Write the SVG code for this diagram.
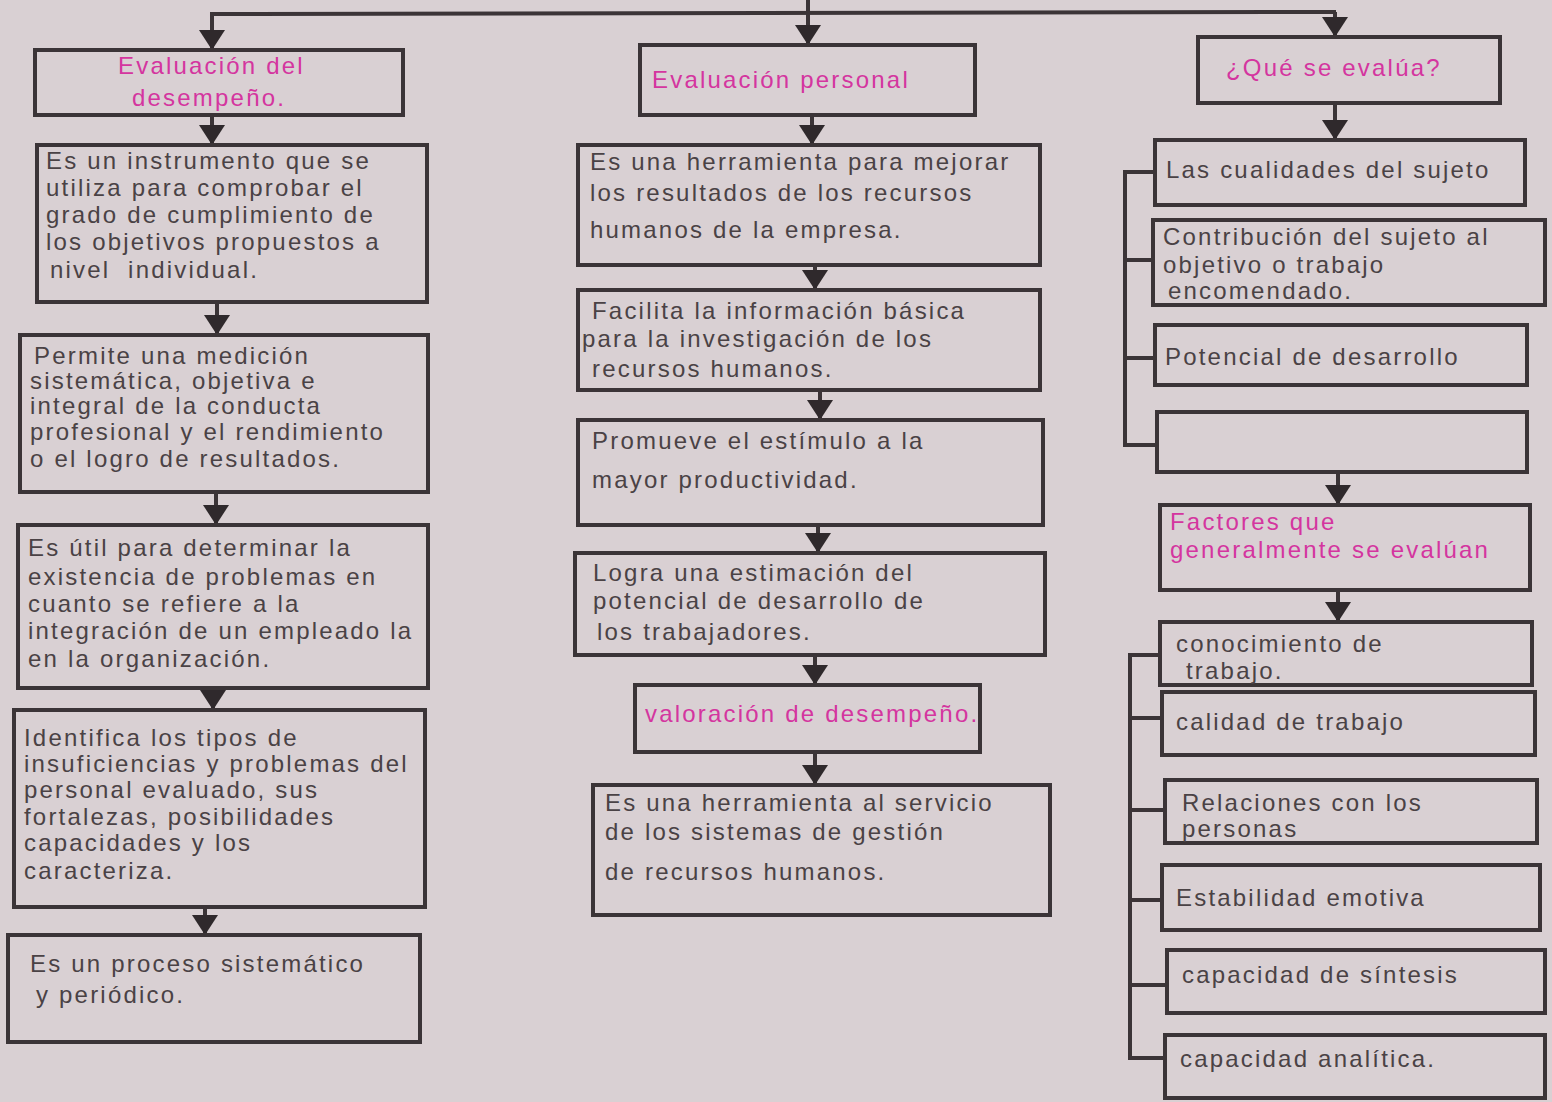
<svg xmlns="http://www.w3.org/2000/svg" width="1552" height="1102" viewBox="0 0 1552 1102">
<style>
.bg{fill:#d9d0d3}
.box{fill:none;stroke:#3b3437;stroke-width:4}
.ln{fill:none;stroke:#3b3437;stroke-width:4}
.t{font-family:"Liberation Sans","Open Sans",sans-serif;font-size:24px;fill:#4a4245;letter-spacing:2.2px}
.m{fill:#d4359f}
</style>
<defs>
<marker id="ah" markerUnits="userSpaceOnUse" markerWidth="22" markerHeight="28" viewBox="0 0 22 28" refX="21" refY="14" orient="auto">
<path d="M1,1 L1,27 L21,14 Z" fill="#2f292c"/>
</marker>
</defs>
<rect class="bg" x="0" y="0" width="1552" height="1102"/>

<g id="connectors">
<line class="ln" x1="808" y1="0" x2="808" y2="13"/>
<line class="ln" x1="210" y1="14" x2="1336" y2="12"/>
<path class="ln" d="M212,14 V50" marker-end="url(#ah)"/>
<path class="ln" d="M808,13 V45" marker-end="url(#ah)"/>
<path class="ln" d="M1335,12 V37" marker-end="url(#ah)"/>
<path class="ln" d="M212,115 V145" marker-end="url(#ah)"/>
<path class="ln" d="M217,302 V335" marker-end="url(#ah)"/>
<path class="ln" d="M216,492 V525" marker-end="url(#ah)"/>
<path class="ln" d="M213,688 V710" marker-end="url(#ah)"/>
<path class="ln" d="M205,907 V935" marker-end="url(#ah)"/>
<path class="ln" d="M812,115 V145" marker-end="url(#ah)"/>
<path class="ln" d="M815,265 V290" marker-end="url(#ah)"/>
<path class="ln" d="M820,390 V420" marker-end="url(#ah)"/>
<path class="ln" d="M818,525 V553" marker-end="url(#ah)"/>
<path class="ln" d="M815,655 V685" marker-end="url(#ah)"/>
<path class="ln" d="M815,752 V785" marker-end="url(#ah)"/>
<path class="ln" d="M1335,103 V140" marker-end="url(#ah)"/>
<path class="ln" d="M1338,472 V505" marker-end="url(#ah)"/>
<path class="ln" d="M1338,590 V622" marker-end="url(#ah)"/>
<path class="ln" d="M1155,172 H1125 V445 H1157"/>
<path class="ln" d="M1125,260 H1153"/>
<path class="ln" d="M1125,358 H1155"/>
<path class="ln" d="M1160,655 H1130 V1058 H1165"/>
<path class="ln" d="M1130,718 H1162"/>
<path class="ln" d="M1130,810 H1165"/>
<path class="ln" d="M1130,900 H1162"/>
<path class="ln" d="M1130,985 H1167"/>
</g>

<g id="n-eval-desempeno">
<rect class="box" x="35" y="50" width="368" height="65"/>
<text class="t m" x="118" y="74">Evaluación del</text>
<text class="t m" x="132" y="106">desempeño.</text>
</g>
<g id="n-l1">
<rect class="box" x="37" y="145" width="390" height="157"/>
<text class="t" x="46" y="169">Es un instrumento que se</text>
<text class="t" x="46" y="196">utiliza para comprobar el</text>
<text class="t" x="46" y="223">grado de cumplimiento de</text>
<text class="t" x="46" y="250">los objetivos propuestos a</text>
<text class="t" x="50" y="278" xml:space="preserve">nivel  individual.</text>
</g>
<g id="n-l2">
<rect class="box" x="20" y="335" width="408" height="157"/>
<text class="t" x="34" y="364">Permite una medición</text>
<text class="t" x="30" y="389">sistemática, objetiva e</text>
<text class="t" x="30" y="414">integral de la conducta</text>
<text class="t" x="30" y="440">profesional y el rendimiento</text>
<text class="t" x="30" y="467">o el logro de resultados.</text>
</g>
<g id="n-l3">
<rect class="box" x="18" y="525" width="410" height="163"/>
<text class="t" x="28" y="556">Es útil para determinar la</text>
<text class="t" x="28" y="585">existencia de problemas en</text>
<text class="t" x="28" y="612">cuanto se refiere a la</text>
<text class="t" x="28" y="639">integración de un empleado la</text>
<text class="t" x="28" y="667">en la organización.</text>
</g>
<g id="n-l4">
<rect class="box" x="14" y="710" width="411" height="197"/>
<text class="t" x="24" y="746">Identifica los tipos de</text>
<text class="t" x="24" y="772">insuficiencias y problemas del</text>
<text class="t" x="24" y="798">personal evaluado, sus</text>
<text class="t" x="24" y="825">fortalezas, posibilidades</text>
<text class="t" x="24" y="851">capacidades y los</text>
<text class="t" x="24" y="879">caracteriza.</text>
</g>
<g id="n-l5">
<rect class="box" x="8" y="935" width="412" height="107"/>
<text class="t" x="30" y="972">Es un proceso sistemático</text>
<text class="t" x="36" y="1003">y periódico.</text>
</g>

<g id="n-eval-personal">
<rect class="box" x="640" y="45" width="335" height="70"/>
<text class="t m" x="652" y="88">Evaluación personal</text>
</g>
<g id="n-m1">
<rect class="box" x="578" y="145" width="462" height="120"/>
<text class="t" x="590" y="170">Es una herramienta para mejorar</text>
<text class="t" x="590" y="201">los resultados de los recursos</text>
<text class="t" x="590" y="238">humanos de la empresa.</text>
</g>
<g id="n-m2">
<rect class="box" x="578" y="290" width="462" height="100"/>
<text class="t" x="592" y="319">Facilita la información básica</text>
<text class="t" x="582" y="347">para la investigación de los</text>
<text class="t" x="592" y="377">recursos humanos.</text>
</g>
<g id="n-m3">
<rect class="box" x="578" y="420" width="465" height="105"/>
<text class="t" x="592" y="449">Promueve el estímulo a la</text>
<text class="t" x="592" y="488">mayor productividad.</text>
</g>
<g id="n-m4">
<rect class="box" x="575" y="553" width="470" height="102"/>
<text class="t" x="593" y="581">Logra una estimación del</text>
<text class="t" x="593" y="609">potencial de desarrollo de</text>
<text class="t" x="597" y="640">los trabajadores.</text>
</g>
<g id="n-valoracion">
<rect class="box" x="635" y="685" width="345" height="67"/>
<text class="t m" x="645" y="722">valoración de desempeño.</text>
</g>
<g id="n-m5">
<rect class="box" x="593" y="785" width="457" height="130"/>
<text class="t" x="605" y="811">Es una herramienta al servicio</text>
<text class="t" x="605" y="840">de los sistemas de gestión</text>
<text class="t" x="605" y="880">de recursos humanos.</text>
</g>

<g id="n-que-se-evalua">
<rect class="box" x="1198" y="37" width="302" height="66"/>
<text class="t m" x="1226" y="76">¿Qué se evalúa?</text>
</g>
<g id="n-r1">
<rect class="box" x="1155" y="140" width="370" height="65"/>
<text class="t" x="1166" y="178">Las cualidades del sujeto</text>
</g>
<g id="n-r2">
<rect class="box" x="1153" y="220" width="392" height="85"/>
<text class="t" x="1163" y="245">Contribución del sujeto al</text>
<text class="t" x="1163" y="273">objetivo o trabajo</text>
<text class="t" x="1168" y="299">encomendado.</text>
</g>
<g id="n-r3">
<rect class="box" x="1155" y="325" width="372" height="60"/>
<text class="t" x="1165" y="365">Potencial de desarrollo</text>
</g>
<g id="n-r4">
<rect class="box" x="1157" y="412" width="370" height="60"/>
</g>
<g id="n-factores">
<rect class="box" x="1160" y="505" width="370" height="85"/>
<text class="t m" x="1170" y="530">Factores que</text>
<text class="t m" x="1170" y="558">generalmente se evalúan</text>
</g>
<g id="n-f1">
<rect class="box" x="1160" y="622" width="372" height="63"/>
<text class="t" x="1176" y="652">conocimiento de</text>
<text class="t" x="1186" y="679">trabajo.</text>
</g>
<g id="n-f2">
<rect class="box" x="1162" y="692" width="373" height="63"/>
<text class="t" x="1176" y="730">calidad de trabajo</text>
</g>
<g id="n-f3">
<rect class="box" x="1165" y="780" width="372" height="63"/>
<text class="t" x="1182" y="811">Relaciones con los</text>
<text class="t" x="1182" y="837">personas</text>
</g>
<g id="n-f4">
<rect class="box" x="1162" y="865" width="378" height="65"/>
<text class="t" x="1176" y="906">Estabilidad emotiva</text>
</g>
<g id="n-f5">
<rect class="box" x="1167" y="950" width="378" height="63"/>
<text class="t" x="1182" y="983">capacidad de síntesis</text>
</g>
<g id="n-f6">
<rect class="box" x="1165" y="1035" width="380" height="63"/>
<text class="t" x="1180" y="1067">capacidad analítica.</text>
</g>
</svg>
